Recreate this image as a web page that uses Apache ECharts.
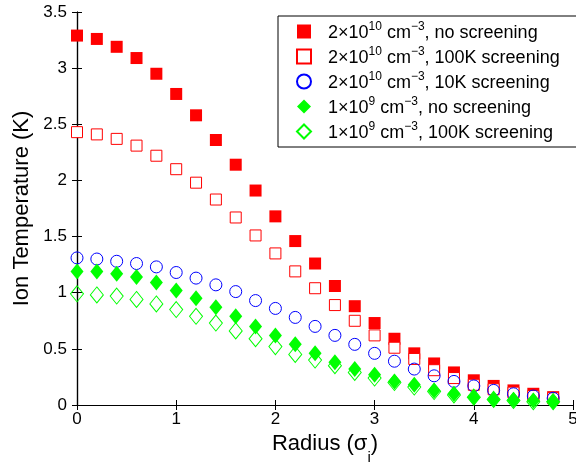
<!DOCTYPE html>
<html>
<head>
<meta charset="utf-8">
<script src="https://cdn.jsdelivr.net/npm/echarts@6/dist/echarts.min.js"></script>
<style>
  html, body { margin: 0; padding: 0; background: #fff; }
  #chart { width: 576px; height: 463px; }
</style>
</head>
<body>
<div id="chart"></div>
<script>
// radius in units of sigma_i
const radius = [0, 0.2, 0.4, 0.6, 0.8, 1.0, 1.2, 1.4, 1.6, 1.8, 2.0, 2.2, 2.4,
  2.6, 2.8, 3.0, 3.2, 3.4, 3.6, 3.8, 4.0, 4.2, 4.4, 4.6, 4.8]

// ion temperature (K)
const highNoScreen = [3.29, 3.26, 3.19, 3.09, 2.95, 2.77, 2.58, 2.36, 2.14, 1.91, 1.68, 1.46, 1.26,
  1.06, 0.88, 0.73, 0.59, 0.46, 0.37, 0.29, 0.22, 0.17, 0.13, 0.10, 0.07]
const high100K = [2.43, 2.41, 2.37, 2.31, 2.22, 2.10, 1.98, 1.83, 1.67, 1.51, 1.35, 1.19, 1.04,
  0.89, 0.75, 0.62, 0.51, 0.41, 0.31, 0.24, 0.18, 0.14, 0.11, 0.08, 0.06]
const high10K = [1.31, 1.30, 1.28, 1.26, 1.23, 1.18, 1.13, 1.07, 1.01, 0.93, 0.86, 0.78, 0.70,
  0.62, 0.54, 0.46, 0.39, 0.32, 0.26, 0.21, 0.17, 0.13, 0.10, 0.08, 0.06]
const lowNoScreen = [1.19, 1.19, 1.17, 1.14, 1.09, 1.02, 0.95, 0.87, 0.79, 0.70, 0.62, 0.54, 0.46,
  0.38, 0.32, 0.27, 0.21, 0.18, 0.13, 0.10, 0.07, 0.05, 0.045, 0.04, 0.03]
const low100K = [0.99, 0.98, 0.97, 0.94, 0.90, 0.85, 0.79, 0.73, 0.66, 0.59, 0.52, 0.45, 0.40,
  0.35, 0.29, 0.24, 0.20, 0.16, 0.12, 0.09, 0.07, 0.05, 0.04, 0.03, 0.03]

const seriesNames = [
  '2×10^10 cm^−3, no screening',
  '2×10^10 cm^−3, 100K screening',
  '2×10^10 cm^−3, 10K screening',
  '1×10^9 cm^−3, no screening',
  '1×10^9 cm^−3, 100K screening'
]
const legendLabels = [
  '{n|2×10}{s|10}{n| cm}{s|−3}{n|, no screening}',
  '{n|2×10}{s|10}{n| cm}{s|−3}{n|, 100K screening}',
  '{n|2×10}{s|10}{n| cm}{s|−3}{n|, 10K screening}',
  '{n|1×10}{s|9}{n| cm}{s|−3}{n|, no screening}',
  '{n|1×10}{s|9}{n| cm}{s|−3}{n|, 100K screening}'
]

const FONT = "'Liberation Sans', Arial, Helvetica, sans-serif"

function pairs(ys) {
  return radius.map((x, i) => [x, ys[i]])
}

const chart = echarts.init(document.getElementById('chart'), null, { renderer: 'canvas' })

const axisLine = { show: true, lineStyle: { color: '#000', width: 1.2 } }
const tickIn = { show: true, inside: true, length: 5, lineStyle: { color: '#000', width: 1 } }

const option = {
  backgroundColor: '#fff',
  animation: false,
  grid: { left: 77, right: 3, top: 12, bottom: 58, containLabel: false, outerBoundsMode: 'none' },
  legend: {
    orient: 'vertical',
    left: 278,
    top: 16,
    width: 287,
    backgroundColor: '#fff',
    borderColor: '#000',
    borderWidth: 1,
    borderRadius: 0,
    padding: [5, 40, 5, 18],
    itemGap: 4,
    itemWidth: 14,
    itemHeight: 14,
    data: seriesNames,
    formatter: name => legendLabels[seriesNames.indexOf(name)],
    textStyle: {
      padding: [0, 0, 0, 12],
      rich: {
        n: { fontFamily: FONT, fontSize: 18, color: '#000', lineHeight: 21, verticalAlign: 'bottom' },
        s: { fontFamily: FONT, fontSize: 12, color: '#000', lineHeight: 14, verticalAlign: 'top' }
      }
    }
  },
  xAxis: [
    {
      type: 'value', min: 0, max: 5, interval: 1, position: 'bottom',
      name: '{a|Radius (σ}{b|i}{a|)}',
      nameLocation: 'middle', nameGap: 20,
      nameTextStyle: {
        rich: {
          a: { fontFamily: FONT, fontSize: 22, color: '#000', lineHeight: 26 },
          b: { fontFamily: FONT, fontSize: 15, color: '#000', lineHeight: 26, verticalAlign: 'bottom', padding: [0, 0, -8, 0] }
        }
      },
      axisLine, axisTick: tickIn, splitLine: { show: false },
      axisLabel: { fontFamily: FONT, fontSize: 17, color: '#000', margin: 6 }
    },
    {
      type: 'value', min: 0, max: 5, interval: 1, position: 'top',
      axisLine, axisTick: tickIn, splitLine: { show: false }, axisLabel: { show: false }
    }
  ],
  yAxis: [
    {
      type: 'value', min: 0, max: 3.5, interval: 0.5, position: 'left',
      name: 'Ion Temperature (K)',
      nameLocation: 'middle', nameGap: 43,
      nameTextStyle: { fontFamily: FONT, fontSize: 22, color: '#000' },
      axisLine, axisTick: tickIn, splitLine: { show: false },
      axisLabel: { fontFamily: FONT, fontSize: 17, color: '#000', margin: 10 }
    },
    {
      type: 'value', min: 0, max: 3.5, interval: 0.5, position: 'right',
      axisLine, axisTick: tickIn, splitLine: { show: false }, axisLabel: { show: false }
    }
  ],
  series: [
    {
      name: seriesNames[0], type: 'scatter', data: pairs(highNoScreen), z: 1,
      symbol: 'rect', symbolSize: 12,
      itemStyle: { color: '#ff0000', opacity: 1 }
    },
    {
      name: seriesNames[1], type: 'scatter', data: pairs(high100K), z: 2,
      symbol: 'rect', symbolSize: 11,
      itemStyle: { color: '#ffffff', borderColor: '#ff0000', borderWidth: 1, opacity: 1 }
    },
    {
      name: seriesNames[2], type: 'scatter', data: pairs(high10K), z: 3,
      symbol: 'circle', symbolSize: 12,
      itemStyle: { color: 'transparent', borderColor: '#0000ff', borderWidth: 1, opacity: 1 }
    },
    {
      name: seriesNames[3], type: 'scatter', data: pairs(lowNoScreen), z: 5,
      symbol: 'diamond', symbolSize: [13, 16],
      itemStyle: { color: '#00ff00', opacity: 1 }
    },
    {
      name: seriesNames[4], type: 'scatter', data: pairs(low100K), z: 4,
      symbol: 'diamond', symbolSize: [13, 16],
      itemStyle: { color: 'transparent', borderColor: '#00ff00', borderWidth: 1, opacity: 1 }
    }
  ]
}

chart.setOption(option)
</script>
</body>
</html>
